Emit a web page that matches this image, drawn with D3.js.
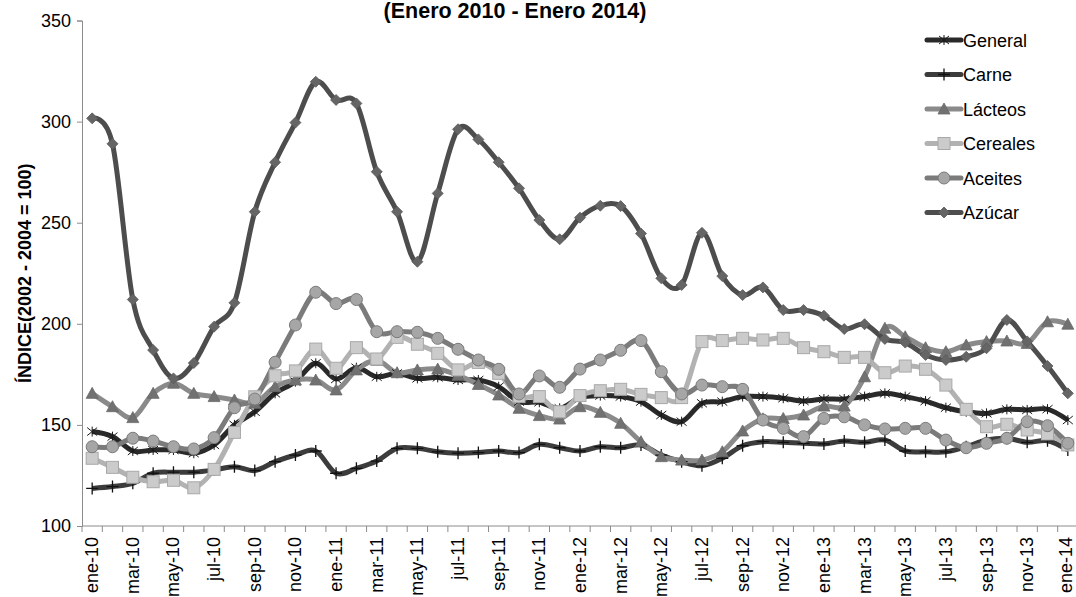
<!DOCTYPE html>
<html>
<head>
<meta charset="utf-8">
<script src="https://cdn.jsdelivr.net/npm/d3@7"></script>
<style>
  body { margin: 0; background: #fff; }
  text { font-family: "Liberation Sans", Arial, sans-serif; }
</style>
</head>
<body>
<div id="chart"></div>
<script>
// months ene-10 .. ene-14
const mesesCorto = ["ene", "feb", "mar", "abr", "may", "jun", "jul", "ago", "sep", "oct", "nov", "dic"];
const months = [];
for (let y = 10; y <= 14; y++) {
  for (let m = 0; m < 12; m++) {
    if (y === 14 && m > 0) break;
    months.push(mesesCorto[m] + "-" + y);
  }
}

const general = [146.7, 144.2, 137.1, 137.6, 137.6, 136.0, 140.1, 150.0, 156.5, 165.6, 171.4, 180.5,
  172.7, 178.3, 173.8, 175.5, 173.0, 173.5, 172.2, 172.2, 168.9, 161.5, 161.2, 158.2,
  163.5, 164.5, 164.0, 161.5, 154.9, 151.6, 160.7, 161.5, 164.0, 164.0, 163.2, 161.8,
  162.8, 162.8, 164.0, 165.6, 164.0, 161.8, 158.5, 156.5, 155.7, 157.7, 157.4, 157.8, 152.4];
const carne = [118.6, 119.5, 121.1, 126.1, 126.6, 126.6, 127.7, 129.3, 127.4, 131.8, 135.1, 137.1,
  126.1, 128.5, 132.1, 138.4, 138.4, 136.7, 136.0, 136.3, 137.1, 136.3, 140.4, 138.7,
  137.1, 139.2, 138.7, 140.1, 135.1, 131.8, 129.8, 133.5, 139.7, 141.7, 141.4, 140.9,
  140.6, 142.0, 141.4, 142.5, 137.1, 136.7, 136.7, 139.2, 142.5, 143.4, 141.4, 142.2, 137.6];
const lacteos = [165.6, 159.0, 153.6, 165.6, 170.6, 165.6, 164.0, 162.3, 160.7, 168.9, 172.2, 172.2,
  167.3, 177.2, 182.0, 175.8, 177.2, 177.6, 174.5, 170.0, 164.8, 158.2, 154.6, 152.9,
  159.0, 156.2, 150.8, 141.7, 134.3, 132.6, 132.6, 136.7, 147.0, 153.0, 153.2, 154.9,
  159.3, 159.3, 173.8, 197.8, 193.6, 188.2, 186.2, 189.5, 191.2, 191.5, 190.3, 201.0, 199.8];
const cereales = [133.5, 129.0, 124.1, 121.9, 122.6, 118.9, 128.0, 146.3, 163.9, 174.3, 176.7, 187.5,
  178.0, 188.2, 182.6, 193.3, 189.9, 185.4, 177.2, 180.9, 175.5, 164.0, 164.0, 156.5,
  164.5, 166.9, 167.6, 165.1, 163.5, 163.5, 191.2, 191.7, 192.8, 192.0, 192.8, 188.2,
  186.2, 183.4, 183.4, 175.8, 179.1, 177.5, 169.7, 157.7, 149.1, 150.3, 147.5, 145.5, 140.1];
const aceites = [139.2, 139.2, 143.4, 142.0, 139.2, 138.1, 143.7, 158.5, 162.8, 181.0, 199.4, 215.6,
  210.0, 212.0, 196.1, 196.1, 195.8, 192.8, 187.4, 182.1, 177.5, 165.3, 174.2, 168.6,
  177.6, 182.1, 186.9, 191.7, 176.3, 165.3, 169.7, 168.9, 167.6, 152.4, 148.3, 144.2,
  153.2, 154.0, 150.0, 148.0, 148.3, 148.3, 142.5, 138.7, 140.9, 143.4, 151.6, 149.6, 140.9];
const azucar = [301.6, 289.0, 212.0, 187.0, 173.0, 180.6, 198.6, 210.4, 255.4, 279.9, 299.5, 319.7,
  310.7, 309.0, 275.2, 255.4, 230.7, 264.5, 296.2, 291.2, 279.9, 267.0, 251.3, 241.8,
  252.5, 258.4, 258.2, 244.6, 222.5, 219.2, 245.0, 223.6, 214.2, 218.0, 206.8, 206.8,
  204.0, 197.4, 199.8, 192.5, 190.7, 184.6, 182.1, 183.7, 187.9, 201.9, 191.3, 179.1, 165.6];

const seriesNames = ["General", "Carne", "Lácteos", "Cereales", "Aceites", "Azúcar"];
const yTicks = [100, 150, 200, 250, 300, 350];

const width = 1076, height = 597;
const margin = {left: 82, right: -2, top: 20.5, bottom: 71};

const svg = d3.select("#chart").append("svg")
  .attr("width", width)
  .attr("height", height);

const X_SCALE = d3.scaleBand()
  .domain(months)
  .range([margin.left, width - margin.right])
  .padding(0);

const Y_SCALE = d3.scaleLinear()
  .domain([100, 350])
  .range([height - margin.bottom, margin.top]);

// styles per series
const styles = [
  {data: general, line: "#2a2a2a", w: 5, marker: "star"},
  {data: carne, line: "#3c3c3c", w: 5, marker: "plus"},
  {data: lacteos, line: "#8a8a8a", w: 5, marker: "triangle"},
  {data: cereales, line: "#b2b2b2", w: 5, marker: "square"},
  {data: aceites, line: "#7b7b7b", w: 5, marker: "circle"},
  {data: azucar, line: "#4d4d4d", w: 5, marker: "diamond"}
];

function drawMarker(g, type) {
  if (type === "star") {
    g.append("path").attr("d", "M-5,-4L5,4M-5,4L5,-4M0,-5L0,5")
      .attr("stroke", "#1a1a1a").attr("stroke-width", 1).attr("fill", "none");
  } else if (type === "plus") {
    g.append("path").attr("d", "M-6,0L6,0M0,-6L0,6")
      .attr("stroke", "#111").attr("stroke-width", 1.3).attr("fill", "none");
  } else if (type === "triangle") {
    g.append("path").attr("d", "M0,-6L6,5L-6,5Z")
      .attr("fill", "#717171").attr("stroke", "#6a6a6a").attr("stroke-width", 0.8);
  } else if (type === "square") {
    g.append("rect").attr("x", -6).attr("y", -6).attr("width", 12).attr("height", 12)
      .attr("fill", "#cbcbcb").attr("stroke", "#a8a8a8").attr("stroke-width", 1);
  } else if (type === "circle") {
    g.append("circle").attr("r", 6)
      .attr("fill", "#a6a6a6").attr("stroke", "#7a7a7a").attr("stroke-width", 1);
  } else if (type === "diamond") {
    g.append("path").attr("d", "M0,-5.5L5.5,0L0,5.5L-5.5,0Z")
      .attr("fill", "#656565").attr("stroke", "#5a5a5a").attr("stroke-width", 0.8);
  }
}

// axes
const xAxis = svg.append("g")
  .attr("transform", "translate(0," + (height - margin.bottom) + ")");
xAxis.append("line")
  .attr("x1", margin.left).attr("x2", width)
  .attr("stroke", "#8c8c8c").attr("stroke-width", 1);
xAxis.selectAll(".tk")
  .data(months)
  .enter().append("line")
  .attr("x1", d => X_SCALE(d)).attr("x2", d => X_SCALE(d))
  .attr("y1", 0).attr("y2", 6)
  .attr("stroke", "#8c8c8c");
xAxis.selectAll(".lbl")
  .data(months.filter((d, i) => i % 2 === 0))
  .enter().append("text")
  .attr("transform", d => "translate(" + Math.min(X_SCALE(d) + X_SCALE.bandwidth() / 2 + 6, width - 4) + ",11) rotate(-90)")
  .attr("text-anchor", "end")
  .attr("font-size", 18)
  .attr("fill", "#000")
  .text(d => d);

const yAxis = svg.append("g")
  .attr("transform", "translate(" + margin.left + ",0)")
  .call(d3.axisLeft(Y_SCALE).tickValues(yTicks).tickSize(5).tickPadding(6));
yAxis.select(".domain").attr("stroke", "#8c8c8c");
yAxis.selectAll(".tick line").attr("stroke", "#8c8c8c");
yAxis.selectAll(".tick text")
  .attr("font-size", 18)
  .attr("font-family", "Liberation Sans, Arial, sans-serif")
  .attr("fill", "#000");

// lines
const line = d3.line()
  .x((d, i) => X_SCALE(months[i]) + X_SCALE.bandwidth() / 2)
  .y(d => Y_SCALE(d))
  .curve(d3.curveCardinal.tension(0));

styles.forEach(s => {
  svg.append("path")
    .datum(s.data)
    .attr("d", line)
    .attr("fill", "none")
    .attr("stroke", s.line)
    .attr("stroke-width", s.w)
    .attr("stroke-linejoin", "round");
});
styles.forEach(s => {
  svg.append("g").selectAll("g")
    .data(s.data)
    .enter().append("g")
    .attr("transform", (d, i) => "translate(" + (X_SCALE(months[i]) + X_SCALE.bandwidth() / 2) + "," + Y_SCALE(d) + ")")
    .each(function() { drawMarker(d3.select(this), s.marker); });
});

// title
svg.append("text")
  .attr("x", 515).attr("y", 18)
  .attr("text-anchor", "middle")
  .attr("font-size", 21.5)
  .attr("font-weight", "bold")
  .text("(Enero 2010 - Enero 2014)");

// y label
svg.append("text")
  .attr("transform", "translate(31," + ((margin.top + height - margin.bottom) / 2) + ") rotate(-90)")
  .attr("text-anchor", "middle")
  .attr("font-size", 18)
  .attr("font-weight", "bold")
  .text("ÍNDICE(2002 - 2004 = 100)");

// legend
const legend = svg.append("g");
styles.forEach((s, i) => {
  const ly = 40 + i * 34.5;
  legend.append("line")
    .attr("x1", 927).attr("x2", 961)
    .attr("y1", ly).attr("y2", ly)
    .attr("stroke", s.line).attr("stroke-width", 5).attr("stroke-linecap", "round");
  drawMarker(legend.append("g").attr("transform", "translate(944," + ly + ")"), s.marker);
  legend.append("text")
    .attr("x", 963).attr("y", ly + 6.5)
    .attr("font-size", 18)
    .text(seriesNames[i]);
});
</script>
</body>
</html>
